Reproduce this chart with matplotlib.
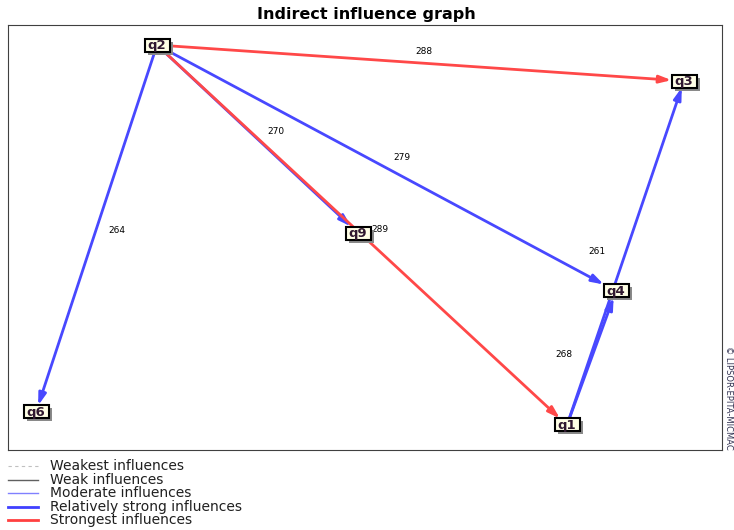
import numpy as np
import matplotlib.pyplot as plt
from matplotlib.lines import Line2D
from matplotlib.patches import Rectangle

# node positions (pixel-like coordinates of the original layout)
nodes = ['q2', 'q3', 'q9', 'q4', 'q1', 'q6']
node_x = [157, 684, 358, 616, 567, 36]
node_y = [45, 81, 233, 291, 425, 412]

# edges: source, target, value, class
edge_src = ['q2', 'q2', 'q2', 'q2', 'q2', 'q1', 'q1']
edge_dst = ['q3', 'q6', 'q9', 'q1', 'q4', 'q4', 'q3']
edge_val = [288, 264, 270, 289, 279, 268, 261]
edge_cls = ['strongest', 'strong', 'strong', 'strongest', 'strong', 'strong', 'strong']
# label offsets from the edge midpoint
lab_dx = [3, 20, 18, 18, 15, -28, -29]
lab_dy = [-12, 2, -7, -6, -10, -3, -2]

colors = {'strongest': '#ff4848', 'strong': '#4848ff'}

pos = {n: (x, y) for n, x, y in zip(nodes, node_x, node_y)}

fig = plt.figure(figsize=(7.34, 5.30), dpi=100)
ax = fig.add_axes([8 / 734, 80 / 530, 714 / 734, 425 / 530])
ax.set_xlim(8, 722)
ax.set_ylim(450, 25)
ax.set_xticks([])
ax.set_yticks([])
for s in ax.spines.values():
    s.set_linewidth(0.8)
    s.set_color('#404040')

bw, bh = 12.5, 6.5  # half size of node box


def box_edge(c, other):
    dx, dy = other[0] - c[0], other[1] - c[1]
    t = min(bw / abs(dx) if dx else 1e9, bh / abs(dy) if dy else 1e9)
    return (c[0] + dx * t, c[1] + dy * t)


# draw red edges over blue ones
order = sorted(range(len(edge_src)), key=lambda i: edge_cls[i] == 'strongest')
for i in order:
    a, b = pos[edge_src[i]], pos[edge_dst[i]]
    start = box_edge(a, b)
    end = box_edge(b, a)
    ax.annotate('', xy=end, xytext=start,
                arrowprops=dict(arrowstyle='-|>,head_length=0.7,head_width=0.22',
                                color=colors[edge_cls[i]], lw=2,
                                shrinkA=0, shrinkB=0))
for i in range(len(edge_src)):
    a, b = pos[edge_src[i]], pos[edge_dst[i]]
    mx, my = (a[0] + b[0]) / 2 + lab_dx[i], (a[1] + b[1]) / 2 + lab_dy[i]
    ax.text(mx, my, str(edge_val[i]), fontsize=6.5, ha='center', va='center',
            family='DejaVu Sans', zorder=6)

for n, x, y in zip(nodes, node_x, node_y):
    ax.add_patch(Rectangle((x - bw + 3, y - bh + 3), 2 * bw, 2 * bh,
                           fc='#8a8a8a', ec='none', zorder=7))
    ax.add_patch(Rectangle((x - bw, y - bh), 2 * bw, 2 * bh,
                           fc='#ffffe6', ec='black', lw=1.5, zorder=8))
    ax.text(x, y + 0.5, n, fontsize=9.5, fontweight='bold', color='#301830',
            ha='center', va='center', family='DejaVu Sans', zorder=9)

fig.text(366 / 734, 1 - 14 / 530, 'Indirect influence graph', ha='center', va='center',
         fontsize=11.5, fontweight='bold', family='DejaVu Sans')

fig.text(729 / 734, 1 - 398 / 530, '© LIPSOR-EPITA-MICMAC', rotation=-90,
         ha='center', va='center', fontsize=6, family='DejaVu Sans', color='#303050')

# legend, drawn row by row
leg_labels = ['Weakest influences', 'Weak influences', 'Moderate influences',
              'Relatively strong influences', 'Strongest influences']
leg_colors = ['#c0c0c0', '#606060', '#8080ff', '#4040ff', '#ff4040']
leg_styles = [(0, (3, 3)), '-', '-', '-', '-']
leg_widths = [0.8, 1.0, 1.0, 2.0, 2.0]
leg_y = [466, 480, 493, 507, 520]
for lab, c, s, w, y in zip(leg_labels, leg_colors, leg_styles, leg_widths, leg_y):
    fy = 1 - y / 530
    fig.add_artist(Line2D([8 / 734, 38 / 734], [fy, fy], color=c, ls=s, lw=w))
    fig.text(50 / 734, fy, lab, ha='left', va='center', fontsize=10,
             family='DejaVu Sans', color='#202020')

fig.savefig('out.png', dpi=100)
